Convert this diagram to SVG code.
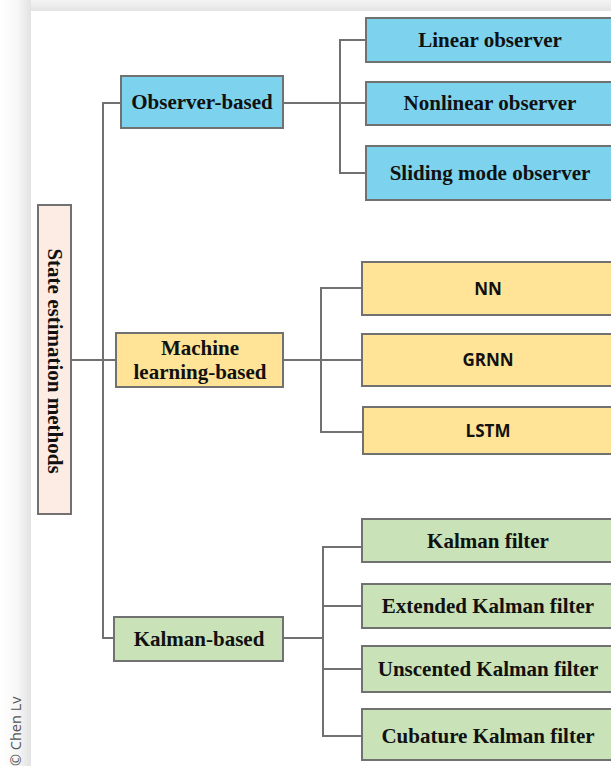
<svg xmlns="http://www.w3.org/2000/svg" width="611" height="766" viewBox="0 0 611 766">
<defs>
<linearGradient id="shL" x1="0" y1="0" x2="1" y2="0">
<stop offset="0" stop-color="#ffffff"/><stop offset="0.55" stop-color="#f7f7f7"/><stop offset="1" stop-color="#e2e2e2"/>
</linearGradient>
<linearGradient id="shT" x1="0" y1="0" x2="0" y2="1">
<stop offset="0" stop-color="#f4f4f4"/><stop offset="1" stop-color="#e4e4e4"/>
</linearGradient>
</defs>
<style>
.box{stroke:#717171;stroke-width:2}
.blue{fill:#7dd3ed}
.yel{fill:#ffe397}
.grn{fill:#c9e2b7}
.root{fill:#fdece3}
.t{font-family:"Liberation Serif","Times New Roman",serif;font-weight:bold;font-size:21px;fill:#111;text-anchor:middle}
.s{font-family:"Open Sans","Liberation Sans",sans-serif;font-weight:bold;font-size:17px;fill:#111;text-anchor:middle}
.c{fill:none;stroke:#717171;stroke-width:2}
</style>
<rect x="0" y="0" width="611" height="766" fill="#ffffff"/>
<rect x="0" y="0" width="31" height="766" fill="url(#shL)"/>
<rect x="31" y="0" width="580" height="11" fill="url(#shT)"/>
<text transform="translate(21,766) rotate(-90)" font-family="'Open Sans','Liberation Sans',sans-serif" font-size="14.5" fill="#555">© Chen Lv</text>

<g id="connectors">
<path class="c" d="M71 360H116"/>
<path class="c" d="M121 103H103V638H115"/>
<path class="c" d="M283 103H366M366 40H340V173H366"/>
<path class="c" d="M283 360H362M362 288H321V432H363"/>
<path class="c" d="M283 638H323M362 547H323V736H362M323 606H362M323 669H362"/>
</g>

<g id="root"><rect class="box root" x="38" y="205" width="33" height="309"/>
<text class="t" transform="translate(47.5,361) rotate(90)">State estimation methods</text></g>

<g id="observer-based"><rect class="box blue" x="121" y="76" width="162" height="52"/>
<text class="t" x="202" y="109">Observer-based</text></g>
<g id="linear"><rect class="box blue" x="366" y="18" width="260" height="44"/>
<text class="t" x="490" y="47">Linear observer</text></g>
<g id="nonlinear"><rect class="box blue" x="366" y="82" width="260" height="43"/>
<text class="t" x="490" y="110">Nonlinear observer</text></g>
<g id="sliding"><rect class="box blue" x="366" y="146" width="260" height="54"/>
<text class="t" x="490" y="180">Sliding mode observer</text></g>

<g id="ml-based"><rect class="box yel" x="116" y="333" width="167" height="54"/>
<text class="t" x="200" y="355">Machine</text>
<text class="t" x="200" y="379">learning-based</text></g>
<g id="nn"><rect class="box yel" x="362" y="262" width="260" height="53"/>
<text class="s" x="488" y="295">NN</text></g>
<g id="grnn"><rect class="box yel" x="362" y="334" width="260" height="52"/>
<text class="s" x="488" y="366">GRNN</text></g>
<g id="lstm"><rect class="box yel" x="363" y="407" width="260" height="47"/>
<text class="s" x="488" y="437">LSTM</text></g>

<g id="kalman-based"><rect class="box grn" x="114" y="617" width="169" height="44"/>
<text class="t" x="199" y="646">Kalman-based</text></g>
<g id="kf"><rect class="box grn" x="362" y="519" width="260" height="43"/>
<text class="t" x="488" y="548">Kalman filter</text></g>
<g id="ekf"><rect class="box grn" x="362" y="584" width="260" height="44"/>
<text class="t" x="488" y="613">Extended Kalman filter</text></g>
<g id="ukf"><rect class="box grn" x="362" y="646" width="260" height="46"/>
<text class="t" x="488" y="676">Unscented Kalman filter</text></g>
<g id="ckf"><rect class="box grn" x="362" y="709" width="260" height="51"/>
<text class="t" x="488" y="743">Cubature Kalman filter</text></g>
</svg>
